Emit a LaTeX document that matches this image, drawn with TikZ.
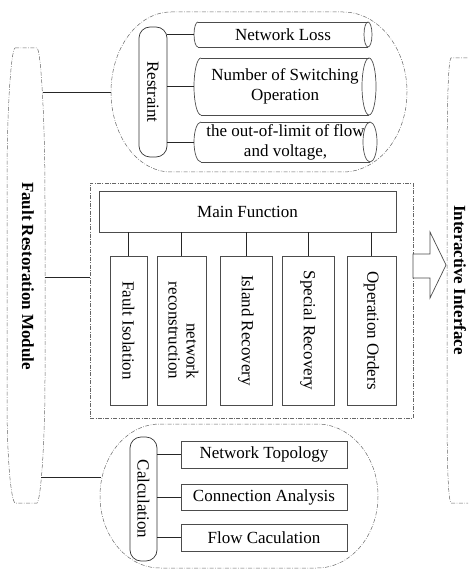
\documentclass[tikz,border=0pt]{standalone}
\usepackage{fontspec}
\setmainfont{Liberation Serif}
\usepackage{graphicx}
\newcommand\mycylnode[7]{% name, xl, xr, yt, yb, rx, text
  \node[txt, align=center] (#1) at ({(#2+#3)/2},{(#4+#5)/2}) {#7};
  \coordinate (#1-w) at ({#2-#6},{(#4+#5)/2});
  \draw[bline] (#2,#4) -- (#3,#4) (#2,#5) -- (#3,#5);
  \draw[bline] (#3,{(#4+#5)/2}) ellipse[x radius=#6, y radius={(#5-#4)/2}];
  \draw[bline] (#2,#4) arc[start angle=270, end angle=90, x radius=#6, y radius={(#5-#4)/2}];
}
\begin{document}
\begin{tikzpicture}[x=1pt,y=-1pt,
  txt/.style={font=\fontsize{17}{20}\selectfont, inner sep=0pt},
  dd/.style={draw=black!60, line width=0.5pt, dash pattern=on 4pt off 1.5pt on 0.7pt off 1.5pt},
  ln/.style={draw=black!85, line width=0.7pt},
  bline/.style={draw=black!70, line width=0.7pt},
  bx/.style={txt, draw=black!70, line width=0.7pt, rectangle},
  capsule/.style={txt, draw=black!80, line width=0.7pt, rounded corners=11pt}]
\useasboundingbox (0,0) rectangle (468,569);
\clip (0,0) rectangle (468,569);

% left module
\draw[dd] (15,48) -- (37,48) .. controls (41,50) and (45,120) .. (45,200) -- (45,380)
  .. controls (45,440) and (41,500) .. (37,503) -- (15,503)
  .. controls (11,500) and (7,460) .. (7,400) -- (7,180) .. controls (7,110) and (11,50) .. (15,48) -- cycle;
\node[txt] (frm) at (28,276) {\rotatebox{-90}{\bfseries Fault Restoration Module}};
\coordinate (frm-a) at (43,92);
\coordinate (frm-b) at (45,277);
\coordinate (frm-c) at (41,477);

% right module
\draw[dd] (475,58) -- (451,58) .. controls (448,60) and (447,110) .. (447,180) -- (447,400)
  .. controls (447,460) and (448,500) .. (451,503) -- (475,503);
\node[txt] (ii) at (460,280) {\rotatebox{-90}{\bfseries Interactive Interface}};

% top region
\draw[dd] (171,12) -- (343,12) arc[start angle=-90, end angle=90, x radius=64, y radius=80]
  -- (171,172) arc[start angle=90, end angle=270, x radius=60, y radius=80] -- cycle;
\coordinate (topL) at (111,92);
\node[capsule, minimum width=28, minimum height=130] (rs) at (153,92) {\rotatebox{-90}{Restraint}};
\mycylnode{nl}{198}{368}{22}{47}{4}{Network Loss}
\mycylnode{nso}{201}{369}{58}{115}{7}{Number of Switching\\Operation}
\mycylnode{ool}{201}{370}{122}{162}{7}{the out-of-limit of flow\\and voltage,}
\draw[ln] (rs.east |- nl-w) -- (nl-w);
\draw[ln] (rs.east |- nso-w) -- (nso-w);
\draw[ln] (rs.east |- ool-w) -- (ool-w);
\draw[ln] (frm-a) -- (topL);

% middle region
\node[dd, minimum width=323, minimum height=235, inner sep=0pt] (mid) at (251.5,300.5) {};
\coordinate (midL) at (90,277);
\draw[ln] (frm-b) -- (midL);
\node[bx, minimum width=297, minimum height=41] (mf) at (247.5,211.5) {Main Function};
\node[bx, minimum width=37, minimum height=149] (fi) at (128.5,330.5) {\rotatebox{-90}{Fault Isolation}};
\node[bx, minimum width=49, minimum height=149] (nr) at (181.5,330.5) {\rotatebox{-90}{\begin{tabular}{@{}r@{}}network\\[-2pt]reconstruction\end{tabular}}};
\node[bx, minimum width=52, minimum height=149] (ir) at (246,330.5) {\rotatebox{-90}{Island Recovery}};
\node[bx, minimum width=52, minimum height=149] (sr) at (308,330.5) {\rotatebox{-90}{Special Recovery}};
\node[bx, minimum width=49, minimum height=149] (oo) at (371.5,330.5) {\rotatebox{-90}{Operation Orders}};
\foreach \n in {fi,nr,ir,sr,oo} {\draw[ln] (mf.south -| \n.north) -- (\n.north);}

% arrow
\draw[bline, fill=white] (413,254) -- (430,254) -- (430,232) -- (446,265) -- (430,298) -- (430,278) -- (413,278) -- cycle;

% bottom region
\draw[dd] (160,424) -- (317,424) arc[start angle=-90, end angle=90, x radius=61, y radius=72]
  -- (160,568) arc[start angle=90, end angle=270, x radius=60, y radius=72] -- cycle;
\coordinate (botL) at (101,477);
\draw[ln] (frm-c) -- (botL);
\node[capsule, minimum width=27, minimum height=124] (calc) at (143.5,499) {\rotatebox{-90}{Calculation}};
\node[bx, minimum width=166, minimum height=27] (nt) at (264,454.5) {Network Topology};
\node[bx, minimum width=166, minimum height=26] (ca) at (264,497) {Connection Analysis};
\node[bx, minimum width=166, minimum height=27] (fc) at (264,537.5) {Flow Caculation};
\draw[ln] (calc.east |- nt.west) -- (nt.west);
\draw[ln] (calc.east |- ca.west) -- (ca.west);
\draw[ln] (calc.east |- fc.west) -- (fc.west);
\end{tikzpicture}
\end{document}
